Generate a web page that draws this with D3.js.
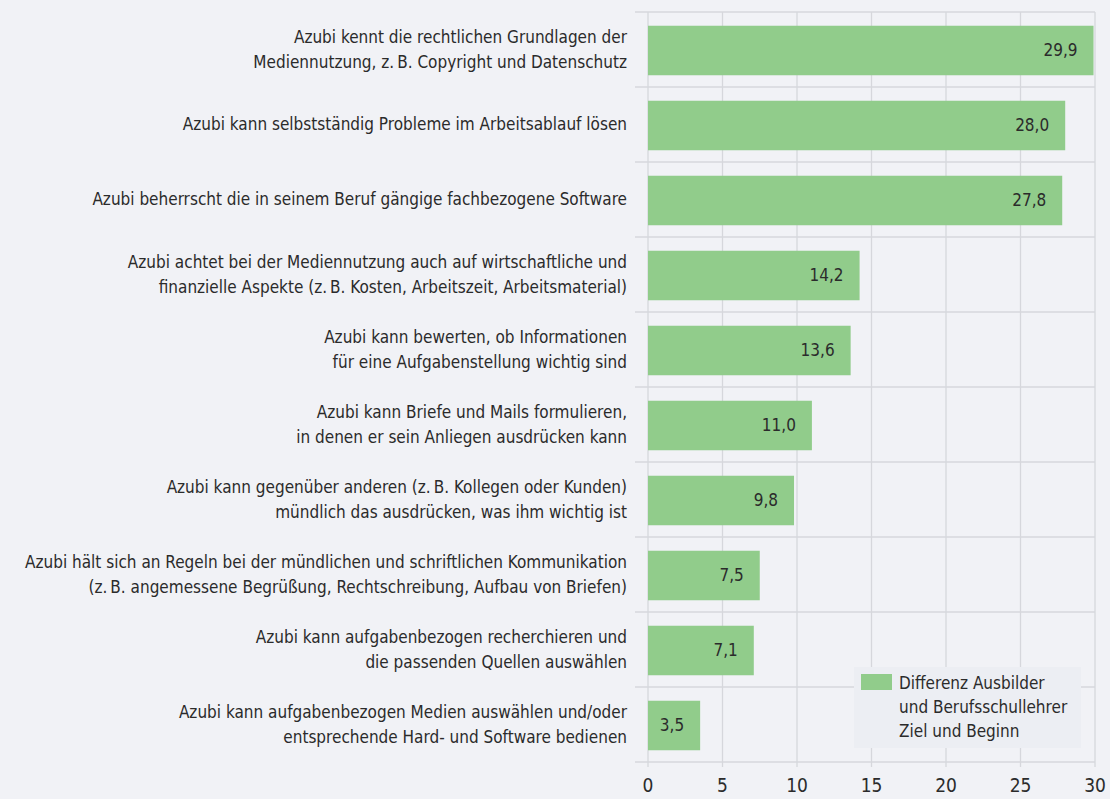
<!DOCTYPE html>
<html>
<head>
<meta charset="utf-8">
<script src="https://cdn.jsdelivr.net/npm/d3@7"></script>
<style>
  body { margin: 0; background: #f1f2f6; }
  #svgDiv { width: 1110px; height: 799px; }
  text { font-family: "DejaVu Sans Condensed", "Liberation Sans Narrow", sans-serif; fill: #2b2b2b; }
</style>
</head>
<body>
<div id="svgDiv"></div>
<script>
// data
var labels = [
    ["Azubi kennt die rechtlichen Grundlagen der", "Mediennutzung, z.\u2009B. Copyright und Datenschutz"],
    ["Azubi kann selbstständig Probleme im Arbeitsablauf lösen"],
    ["Azubi beherrscht die in seinem Beruf gängige fachbezogene Software"],
    ["Azubi achtet bei der Mediennutzung auch auf wirtschaftliche und", "finanzielle Aspekte (z.\u2009B. Kosten, Arbeitszeit, Arbeitsmaterial)"],
    ["Azubi kann bewerten, ob Informationen", "für eine Aufgabenstellung wichtig sind"],
    ["Azubi kann Briefe und Mails formulieren,", "in denen er sein Anliegen ausdrücken kann"],
    ["Azubi kann gegenüber anderen (z.\u2009B. Kollegen oder Kunden)", "mündlich das ausdrücken, was ihm wichtig ist"],
    ["Azubi hält sich an Regeln bei der mündlichen und schriftlichen Kommunikation", "(z.\u2009B. angemessene Begrüßung, Rechtschreibung, Aufbau von Briefen)"],
    ["Azubi kann aufgabenbezogen recherchieren und", "die passenden Quellen auswählen"],
    ["Azubi kann aufgabenbezogen Medien auswählen und/oder", "entsprechende Hard- und Software bedienen"]
];
var values = [29.9, 28.0, 27.8, 14.2, 13.6, 11.0, 9.8, 7.5, 7.1, 3.5];
var xTicks = [0, 5, 10, 15, 20, 25, 30];
var legendLines = ["Differenz Ausbilder", "und Berufsschullehrer", "Ziel und Beginn"];

var barColor = "#91cc8b";
var gridColor = "#d6d7dc";

var svgWidth = 1110, svgHeight = 799;
var svg = d3.select("#svgDiv").append("svg")
    .attr("width", svgWidth)
    .attr("height", svgHeight);

var xScale = d3.scaleLinear().domain([0, 30]).range([648, 1095]);
var yScale = d3.scaleBand().domain(d3.range(values.length)).range([12, 762])
    .paddingInner(0.34).paddingOuter(0.17);
var step = yScale.step();

// vertical grid
svg.selectAll(".vgrid").data(xTicks).enter().append("line")
    .attr("x1", d => xScale(d)).attr("x2", d => xScale(d))
    .attr("y1", 12).attr("y2", 767)
    .attr("stroke", gridColor).attr("stroke-width", 1.3);

// horizontal grid (band boundaries)
var bounds = d3.range(values.length + 1).map(i => 12 + i * step);
svg.selectAll(".hgrid").data(bounds).enter().append("line")
    .attr("x1", 635).attr("x2", 1095)
    .attr("y1", d => d).attr("y2", d => d)
    .attr("stroke", gridColor).attr("stroke-width", 1.3);

// bars
svg.selectAll(".bar").data(values).enter().append("rect")
    .attr("x", xScale(0))
    .attr("y", (d, i) => yScale(i) + 1)
    .attr("width", d => xScale(d) - xScale(0))
    .attr("height", yScale.bandwidth())
    .attr("fill", barColor);

// value labels
svg.selectAll(".val").data(values).enter().append("text")
    .attr("x", d => xScale(d) - 16)
    .attr("y", (d, i) => yScale(i) + yScale.bandwidth() / 2 + 1)
    .attr("dy", "0.35em")
    .attr("text-anchor", "end")
    .style("font-size", "17px")
    .text(d => d.toFixed(1).replace(".", ","));

// category labels
labels.forEach(function(lines, i) {
    var cy = 12 + i * step + step / 2;
    var lh = 25;
    var y0 = cy - (lines.length - 1) * lh / 2;
    lines.forEach(function(line, j) {
        svg.append("text")
            .attr("x", 627)
            .attr("y", y0 + j * lh)
            .attr("dy", "0.35em")
            .attr("text-anchor", "end")
            .style("font-size", "17px")
            .text(line);
    });
});

// x axis ticks labels
svg.selectAll(".xt").data(xTicks).enter().append("text")
    .attr("x", d => xScale(d))
    .attr("y", 792)
    .attr("text-anchor", "middle")
    .style("font-size", "19px")
    .text(d => d);

// legend
var legend = svg.append("g");
legend.append("rect")
    .attr("x", 854).attr("y", 667).attr("width", 227).attr("height", 81)
    .attr("fill", "#eceef3");
legend.append("rect")
    .attr("x", 861).attr("y", 674).attr("width", 31).attr("height", 16)
    .attr("fill", barColor);
legendLines.forEach(function(t, j) {
    legend.append("text")
        .attr("x", 899).attr("y", 683 + j * 24)
        .attr("dy", "0.35em")
        .style("font-size", "17px")
        .text(t);
});
</script>
</body>
</html>
